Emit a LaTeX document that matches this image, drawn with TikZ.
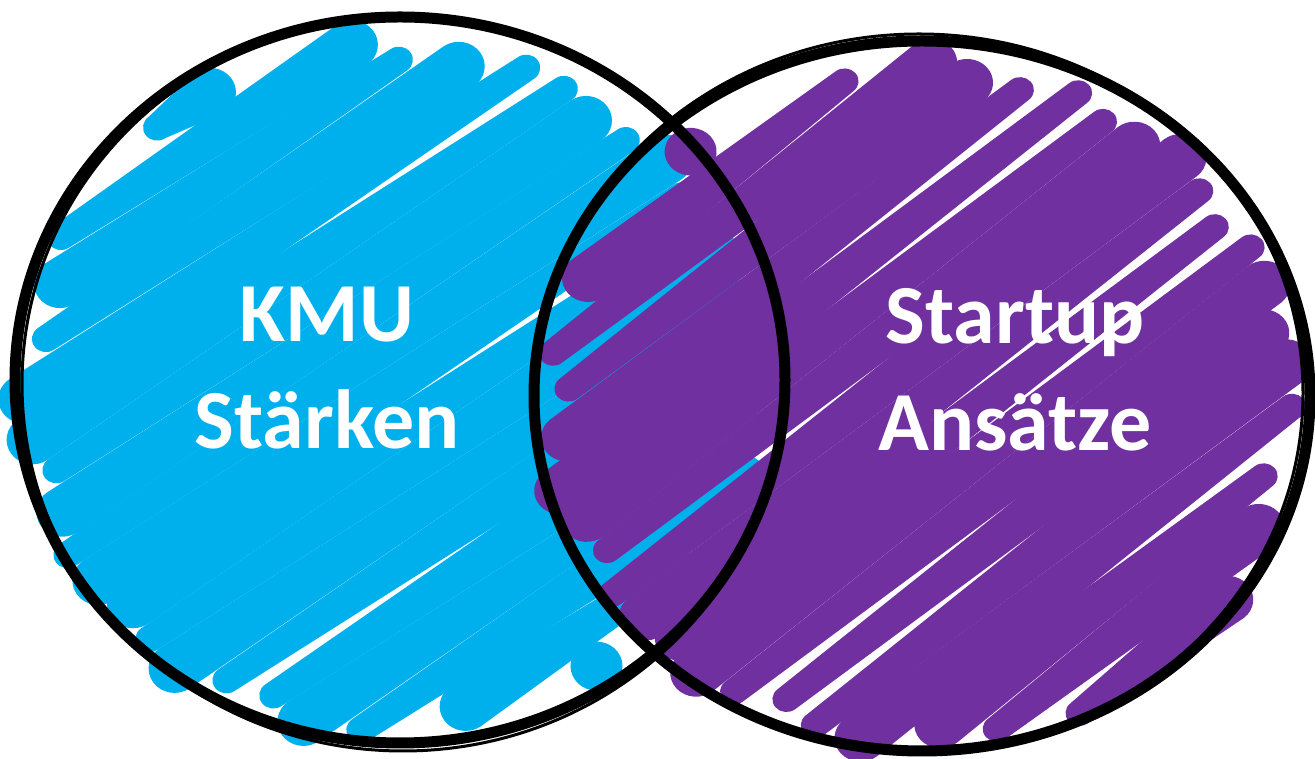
\documentclass[tikz,border=0pt]{standalone}
\usepackage{fontspec}
\setmainfont{Carlito}
\definecolor{xanh}{HTML}{00B0EC}
\definecolor{tim}{HTML}{7030A0}
\tikzset{
  nhan/.style={text=white, inner sep=0pt, align=center, font=\fontsize{84}{107}\selectfont\bfseries},
  vien/.style={draw=black, line width=11},
  vienmanh/.style={draw=black, line width=3}
}
\begin{document}
\begin{tikzpicture}[x=1pt, y=1pt, line join=round, line cap=round]
  \useasboundingbox (0,0) rectangle (1315,759);
  % Tâm hai hình tròn
  \coordinate (O1) at (400,379);
  \coordinate (O2) at (922,363);

  % Tô màu xanh bằng các nét chéo (hình tròn trái)
  \begin{scope}[shift={(O1)}, shift={(-10,-8)}, yscale=0.943, rotate=35]
    \foreach \i in {-9,...,9} {
      \pgfmathsetmacro{\off}{\i*40}
      \pgfmathsetmacro{\rad}{356+12*sin(\i*97)}
      \pgfmathsetmacro{\len}{\rad*sqrt(max(1-(\off/\rad)^2,0))}
      \pgfmathsetmacro{\dir}{sin(\i*137)>0 ? 1 : -1}
      \pgfmathsetmacro{\wl}{20-6*\dir}
      \pgfmathsetmacro{\wr}{20+6*\dir}
      \fill[xanh] (-\len,\off-\wl) -- (\len,\off-\wr) -- (\len,\off+\wr) -- (-\len,\off+\wl) -- cycle
        (-\len,\off) circle[radius=\wl] (\len,\off) circle[radius=\wr];
    }
  \end{scope}

  % Tô màu tím (hình tròn phải)
  \begin{scope}[shift={(O2)}, shift={(0,-8)}, yscale=0.915, rotate=40]
    \foreach \i in {-9,...,9} {
      \pgfmathsetmacro{\off}{\i*40}
      \pgfmathsetmacro{\rad}{362+12*sin(\i*113)}
      \pgfmathsetmacro{\len}{\rad*sqrt(max(1-(\off/\rad)^2,0))}
      \pgfmathsetmacro{\dir}{sin(\i*71)>0 ? 1 : -1}
      \pgfmathsetmacro{\wl}{20-6*\dir}
      \pgfmathsetmacro{\wr}{20+6*\dir}
      \fill[tim] (-\len,\off-\wl) -- (\len,\off-\wr) -- (\len,\off+\wr) -- (-\len,\off+\wl) -- cycle
        (-\len,\off) circle[radius=\wl] (\len,\off) circle[radius=\wr];
    }
  \end{scope}

  % Viền đen của hai hình tròn
  \draw[vien] (O1) ellipse[x radius=385, y radius=363];
  \draw[vienmanh] ([shift={(3,-4)}]O1) ellipse[x radius=381, y radius=367];
  \draw[vien] (O2) ellipse[x radius=388, y radius=355];
  \draw[vienmanh] ([shift={(-3,3)}]O2) ellipse[x radius=384, y radius=359];

  % Nhãn
  \node[nhan] (kmu) at (327,391) {KMU\\Stärken};
  \node[nhan] (startup) at (1015,389) {Startup\\Ansätze};
\end{tikzpicture}
\end{document}
